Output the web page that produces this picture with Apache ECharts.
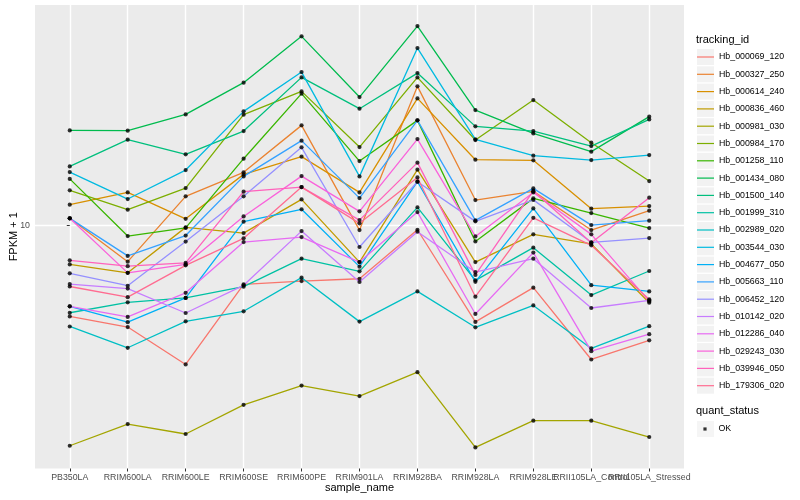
<!DOCTYPE html>
<html><head><meta charset="utf-8">
<script src="https://cdn.jsdelivr.net/npm/echarts@6/dist/echarts.min.js"></script>
<style>html,body{margin:0;padding:0;background:#fff}#c{width:800px;height:500px}</style>
</head><body><div id="c"></div>
<script>
const categories = ['PB350LA','RRIM600LA','RRIM600LE','RRIM600SE','RRIM600PE','RRIM901LA','RRIM928BA','RRIM928LA','RRIM928LE','RRII105LA_Control','RRII105LA_Stressed'];
const trackingIds = ['Hb_000069_120','Hb_000327_250','Hb_000614_240','Hb_000836_460','Hb_000981_030','Hb_000984_170','Hb_001258_110','Hb_001434_080','Hb_001500_140','Hb_001999_310','Hb_002989_020','Hb_003544_030','Hb_004677_050','Hb_005663_110','Hb_006452_120','Hb_010142_020','Hb_012286_040','Hb_029243_030','Hb_039946_050','Hb_179306_020'];
const colors = ['#F8766D','#EA8331','#D89000','#C09B00','#A3A500','#7CAE00','#39B600','#00BB4E','#00BF7D','#00C1A3','#00BFC4','#00BAE0','#00B0F6','#35A2FF','#9590FF','#C77CFF','#E76BF3','#FA62DB','#FF62BC','#FF6C91'];
const yTickValues = [10];
const quantStatus = ['OK'];

const Hb_000069_120 = [4.31, 3.91, 2.77, 5.79, 5.97, 6.10, 9.58, 4.10, 5.62, 2.90, 3.46];
const Hb_000327_250 = [10.64, 7.14, 13.03, 16.25, 25.05, 9.55, 35.88, 12.59, 13.64, 9.55, 11.42];
const Hb_000614_240 = [12.07, 13.51, 10.59, 15.95, 18.78, 13.51, 32.12, 18.26, 18.15, 11.63, 11.91];
const Hb_000836_460 = [6.96, 6.44, 9.79, 9.29, 12.67, 7.11, 16.66, 7.11, 9.18, 8.41, 4.89];
const Hb_000981_030 = [1.31, 1.60, 1.46, 1.91, 2.28, 2.07, 2.58, 1.29, 1.65, 1.65, 1.42];
const Hb_000984_170 = [13.77, 11.52, 14.06, 27.65, 34.26, 20.51, 38.97, 21.88, 31.62, 21.36, 15.00];
const Hb_001258_110 = [15.30, 9.04, 9.74, 18.43, 33.54, 18.03, 26.23, 8.60, 12.79, 11.17, 9.73];
const Hb_001434_080 = [23.92, 23.86, 27.72, 37.12, 56.87, 32.51, 62.52, 28.84, 23.27, 19.66, 27.14];
const Hb_001500_140 = [17.17, 21.96, 19.18, 23.77, 38.97, 29.21, 40.55, 24.82, 23.77, 20.70, 26.47];
const Hb_001999_310 = [4.46, 4.91, 5.11, 5.67, 7.34, 6.53, 11.77, 6.01, 8.12, 5.25, 6.55];
const Hb_002989_020 = [3.93, 3.23, 4.12, 4.52, 6.16, 4.11, 5.43, 3.90, 4.77, 3.21, 3.94];
const Hb_003544_030 = [16.29, 12.71, 16.60, 28.50, 40.93, 15.66, 51.05, 22.02, 18.95, 18.20, 19.05];
const Hb_004677_050 = [4.73, 4.09, 5.11, 10.32, 11.56, 6.82, 14.91, 5.93, 11.66, 5.75, 5.43];
const Hb_005663_110 = [10.64, 7.53, 9.08, 15.66, 21.76, 12.82, 26.23, 10.44, 14.02, 10.00, 10.41];
const Hb_006452_120 = [6.41, 5.72, 8.59, 13.03, 20.46, 8.17, 14.91, 10.35, 12.61, 8.53, 8.87];
const Hb_010142_020 = [5.81, 5.57, 4.45, 5.74, 9.46, 5.92, 9.41, 6.49, 7.34, 4.66, 5.00];
const Hb_012286_040 = [4.73, 4.29, 5.36, 8.55, 8.95, 7.11, 11.27, 4.41, 7.76, 3.13, 3.66];
const Hb_029243_030 = [10.64, 6.44, 6.96, 10.83, 15.70, 11.35, 22.08, 9.01, 13.51, 9.18, 4.95];
const Hb_039946_050 = [7.23, 6.85, 7.06, 13.60, 14.19, 10.47, 17.77, 6.32, 13.70, 8.50, 12.87];
const Hb_179306_020 = [5.68, 5.15, 6.90, 8.85, 14.19, 10.16, 15.51, 5.17, 10.69, 8.30, 5.04];

const seriesValues = [Hb_000069_120, Hb_000327_250, Hb_000614_240, Hb_000836_460, Hb_000981_030, Hb_000984_170, Hb_001258_110, Hb_001434_080, Hb_001500_140, Hb_001999_310, Hb_002989_020, Hb_003544_030, Hb_004677_050, Hb_005663_110, Hb_006452_120, Hb_010142_020, Hb_012286_040, Hb_029243_030, Hb_039946_050, Hb_179306_020];

// ggplot-like 5% expansion in log space
const allVals = [].concat(...seriesValues);
const lo = Math.log10(Math.min(...allVals)), hi = Math.log10(Math.max(...allVals));
const pad = (hi - lo) * 0.05;
const yMin = Math.pow(10, lo - pad), yMax = Math.pow(10, hi + pad);
const xIdx = categories.map((_, i) => i);
const xEven = xIdx.filter(i => i % 2 === 0);
const xOdd = xIdx.filter(i => i % 2 === 1);

const FONT = "'Liberation Sans', Arial, sans-serif";
const linePath = 'path://M0,0 M17,0 M0,16 M17,16 M0,7.4 L17,7.4 L17,8.6 L0,8.6 Z';
const dotPath = 'path://M0,0 M16,16 M6.4,6.4 L9.6,6.4 L9.6,9.6 L6.4,9.6 Z';

const series = trackingIds.map((id, i) => ({
  name: id, type: 'line', color: colors[i], xAxisIndex: 0,
  data: seriesValues[i].map((v, j) => [j, v]),
  symbol: 'none', showSymbol: false, silent: true,
  lineStyle: { color: colors[i], width: 1.3 }, z: 2, animation: false
}));
const points = [];
seriesValues.forEach(arr => arr.forEach((v, j) => points.push([j, v])));
series.push({
  name: quantStatus[0], type: 'scatter', data: points, symbol: 'circle', symbolSize: 4.2, xAxisIndex: 0,
  itemStyle: { color: '#000' }, z: 5, silent: true, animation: false
});

const legendBase = { orient: 'vertical', left: 697, itemWidth: 17, itemHeight: 16, itemGap: 1.3, selectedMode: false, padding: 0,
  textStyle: { fontSize: 8.8, color: '#000', fontFamily: FONT } };

function makeX(vals, withName) {
  return {
    type: 'value', min: -0.6, max: 10.6, position: 'bottom', offset: 0,
    axisLine: { show: false },
    axisTick: { show: true, customValues: vals, length: 3, lineStyle: { color: '#333333', width: 1 } },
    axisLabel: { customValues: vals, formatter: v => categories[Math.round(v)] || '', color: '#4D4D4D', fontSize: 8.8, margin: 5,
      fontFamily: FONT, hideOverlap: false },
    splitLine: { show: true, lineStyle: { color: '#FFFFFF', width: 1.4 } },
    name: withName ? 'sample_name' : '', nameLocation: 'middle', nameGap: 14, nameMoveOverlap: false,
    nameTextStyle: { color: '#000', fontSize: 11, fontFamily: FONT }
  };
}

const option = {
  animation: false,
  textStyle: { fontFamily: FONT },
  title: [
    { text: 'tracking_id', left: 696, top: 34, padding: 0, textStyle: { fontSize: 11, fontWeight: 'normal', color: '#000', fontFamily: FONT } },
    { text: 'quant_status', left: 696, top: 405, padding: 0, textStyle: { fontSize: 11, fontWeight: 'normal', color: '#000', fontFamily: FONT } }
  ],
  legend: [
    Object.assign({}, legendBase, { top: 49, icon: 'rect', formatter: () => '',
      data: trackingIds.map(n => ({ name: n, itemStyle: { color: '#F2F2F2', borderWidth: 0 } })) }),
    Object.assign({}, legendBase, { top: 49,
      data: trackingIds.map((n, i) => ({ name: n, icon: linePath, itemStyle: { color: colors[i], borderWidth: 0 } })) }),
    Object.assign({}, legendBase, { top: 421, icon: 'rect', formatter: () => '',
      data: quantStatus.map(n => ({ name: n, itemStyle: { color: '#F2F2F2', borderWidth: 0 } })) }),
    Object.assign({}, legendBase, { top: 421,
      data: quantStatus.map(n => ({ name: n, icon: dotPath, itemStyle: { color: '#000', borderWidth: 0 } })) })
  ],
  grid: { left: 35, right: 116, top: 5, bottom: 31.5, show: true, backgroundColor: '#EBEBEB', borderWidth: 0,
    containLabel: false, outerBoundsMode: 'none' },
  xAxis: [makeX(xEven, true), makeX(xOdd, false)],
  yAxis: {
    type: 'log', logBase: 10, min: yMin, max: yMax,
    axisLine: { show: false },
    axisTick: { show: true, customValues: yTickValues, length: 3, lineStyle: { color: '#333333', width: 1 } },
    axisLabel: { customValues: yTickValues, formatter: v => String(Math.round(v)), color: '#4D4D4D', fontSize: 8.8, margin: 5, fontFamily: FONT },
    splitLine: { show: true, lineStyle: { color: '#FFFFFF', width: 1.4 } },
    name: 'FPKM + 1', nameLocation: 'middle', nameGap: 16, nameRotate: 90, nameMoveOverlap: false,
    nameTextStyle: { color: '#000', fontSize: 11, fontFamily: FONT }
  },
  series: series
};
const chart = echarts.init(document.getElementById('c'), null, { renderer: 'canvas' });
chart.setOption(option);
</script></body></html>
